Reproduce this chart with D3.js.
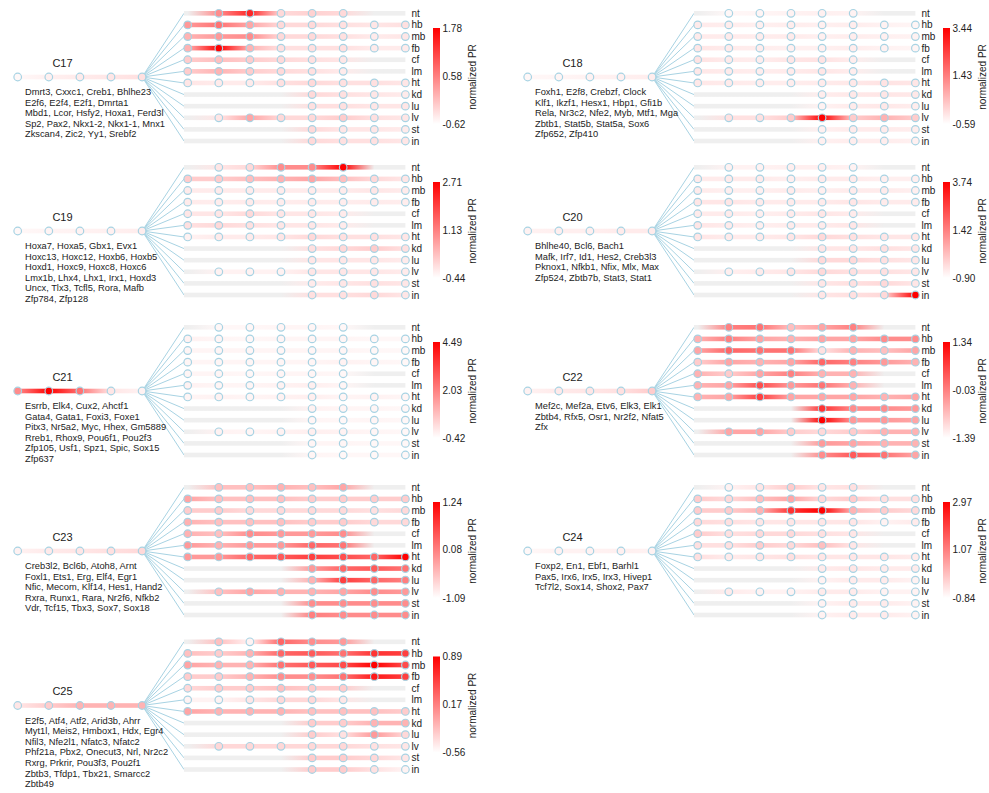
<!DOCTYPE html>
<html>
<head>
<meta charset="utf-8">
<script src="https://cdn.jsdelivr.net/npm/d3@7"></script>
<style>
	body { margin: 0; background: #fff; }
	text { font-family: "Liberation Sans", Arial, Helvetica, sans-serif; fill: #222; }
</style>
</head>
<body>
<svg id="chart" width="989" height="793"></svg>
<script>

/***************************************************************************
 *
 * DATA
 *
 **************************************************************************/

var tissues = ["nt", "hb", "mb", "fb", "cf", "lm", "ht", "kd", "lu", "lv", "st", "in"];

// colour bar labels: min, mid, max
var bar17 = [-0.62, 0.58, 1.78];
var bar18 = [-0.59, 1.43, 3.44];
var bar19 = [-0.44, 1.13, 2.71];
var bar20 = [-0.90, 1.42, 3.74];
var bar21 = [-0.42, 2.03, 4.49];
var bar22 = [-1.39, -0.03, 1.34];
var bar23 = [-1.09, 0.08, 1.24];
var bar24 = [-0.84, 1.07, 2.97];
var bar25 = [-0.56, 0.17, 0.89];

var genes17 = ["Dmrt3, Cxxc1, Creb1, Bhlhe23", "E2f6, E2f4, E2f1, Dmrta1", "Mbd1, Lcor, Hsfy2, Hoxa1, Ferd3l",
	"Sp2, Pax2, Nkx1-2, Nkx1-1, Mnx1", "Zkscan4, Zic2, Yy1, Srebf2"];
var genes18 = ["Foxh1, E2f8, Crebzf, Clock", "Klf1, Ikzf1, Hesx1, Hbp1, Gfi1b", "Rela, Nr3c2, Nfe2, Myb, Mtf1, Mga",
	"Zbtb1, Stat5b, Stat5a, Sox6", "Zfp652, Zfp410"];
var genes19 = ["Hoxa7, Hoxa5, Gbx1, Evx1", "Hoxc13, Hoxc12, Hoxb6, Hoxb5", "Hoxd1, Hoxc9, Hoxc8, Hoxc6",
	"Lmx1b, Lhx4, Lhx1, Irx1, Hoxd3", "Uncx, Tlx3, Tcfl5, Rora, Mafb", "Zfp784, Zfp128"];
var genes20 = ["Bhlhe40, Bcl6, Bach1", "Mafk, Irf7, Id1, Hes2, Creb3l3", "Pknox1, Nfkb1, Nfix, Mlx, Max",
	"Zfp524, Zbtb7b, Stat3, Stat1"];
var genes21 = ["Esrrb, Elk4, Cux2, Ahctf1", "Gata4, Gata1, Foxi3, Foxe1", "Pitx3, Nr5a2, Myc, Hhex, Gm5889",
	"Rreb1, Rhox9, Pou6f1, Pou2f3", "Zfp105, Usf1, Spz1, Spic, Sox15", "Zfp637"];
var genes22 = ["Mef2c, Mef2a, Etv6, Elk3, Elk1", "Zbtb4, Rfx5, Osr1, Nr2f2, Nfat5", "Zfx"];
var genes23 = ["Creb3l2, Bcl6b, Atoh8, Arnt", "Foxl1, Ets1, Erg, Elf4, Egr1", "Nfic, Mecom, Klf14, Hes1, Hand2",
	"Rxra, Runx1, Rara, Nr2f6, Nfkb2", "Vdr, Tcf15, Tbx3, Sox7, Sox18"];
var genes24 = ["Foxp2, En1, Ebf1, Barhl1", "Pax5, Irx6, Irx5, Irx3, Hivep1", "Tcf7l2, Sox14, Shox2, Pax7"];
var genes25 = ["E2f5, Atf4, Atf2, Arid3b, Ahrr", "Myt1l, Meis2, Hmbox1, Hdx, Egr4", "Nfil3, Nfe2l1, Nfatc3, Nfatc2",
	"Phf21a, Pbx2, Onecut3, Nrl, Nr2c2", "Rxrg, Prkrir, Pou3f3, Pou2f1", "Zbtb3, Tfdp1, Tbx21, Smarcc2", "Zbtb49"];

// shared trunk (5 early stages)
var stem17 = [-0.55, -0.48, -0.43, -0.38, -0.33];
var stem18 = [-0.47, -0.43, -0.39, -0.35, -0.31];
var stem19 = [-0.35, -0.31, -0.28, -0.25, -0.22];
var stem20 = [-0.67, -0.60, -0.60, -0.53, -0.53];
var stem21 = [1.79, 4.49, 2.28, 0.07, -0.17];
var stem22 = [-1.25, -1.17, -1.12, -1.06, -0.84];
var stem23 = [-0.97, -0.90, -0.86, -0.81, -0.74];
var stem24 = [-0.73, -0.65, -0.65, -0.61, -0.65];
var stem25 = [-0.42, -0.27, -0.13, -0.13, -0.13];

// tissue x stage (8 later stages), null = not sampled
var pr17 = [
	[null, 0.46, 1.42, -0.26, -0.19, -0.26, null, null],
	[0.34, 0.70, 0.22, -0.26, -0.26, -0.33, -0.38, -0.33],
	[0.10, 0.34, 0.46, -0.26, -0.26, -0.33, -0.43, -0.38],
	[0.10, 1.78, 0.10, -0.33, -0.33, -0.33, -0.43, -0.43],
	[-0.14, -0.02, -0.14, -0.26, -0.33, -0.38, null, null],
	[-0.14, 0.10, -0.14, -0.26, -0.33, -0.43, null, null],
	[-0.38, -0.43, -0.43, -0.33, -0.26, -0.33, -0.33, -0.38],
	[null, null, null, null, -0.26, -0.33, -0.38, -0.43],
	[null, null, null, null, -0.33, -0.33, -0.38, -0.38],
	[null, -0.38, 0.22, -0.26, -0.26, -0.14, -0.33, -0.38],
	[null, null, null, null, -0.26, -0.38, -0.38, -0.43],
	[null, null, null, null, -0.26, -0.33, -0.33, -0.38]
];
var pr18 = [
	[null, -0.47, -0.43, -0.39, -0.35, -0.39, null, null],
	[-0.27, -0.31, -0.35, -0.31, -0.35, -0.31, -0.39, -0.43],
	[-0.27, -0.27, -0.31, -0.27, -0.35, -0.31, -0.35, -0.39],
	[-0.19, -0.27, -0.31, -0.35, -0.35, -0.31, -0.39, -0.43],
	[-0.15, -0.27, -0.31, -0.19, -0.15, -0.31, null, null],
	[-0.23, -0.27, -0.31, -0.27, -0.19, -0.31, null, null],
	[-0.23, -0.27, -0.31, -0.31, -0.27, -0.23, -0.15, -0.19],
	[null, null, null, null, -0.31, -0.23, -0.19, -0.23],
	[null, null, null, null, -0.39, -0.27, -0.23, -0.31],
	[null, -0.11, -0.11, 0.22, 3.44, 0.22, 0.62, 0.22],
	[null, null, null, null, -0.35, -0.27, -0.27, -0.31],
	[null, null, null, null, -0.35, -0.31, -0.31, -0.35]
];
var pr19 = [
	[null, -0.13, 0.03, 0.98, 0.98, 2.71, null, null],
	[0.19, 0.19, 0.35, 0.51, 0.66, 0.35, 0.03, -0.13],
	[-0.19, -0.19, -0.19, -0.19, -0.19, -0.19, -0.13, -0.19],
	[-0.19, -0.22, -0.19, -0.22, -0.19, -0.22, -0.19, -0.22],
	[-0.13, -0.13, 0.03, -0.13, -0.13, -0.19, null, null],
	[-0.06, 0.03, -0.06, -0.13, -0.13, -0.19, null, null],
	[-0.28, -0.19, -0.19, -0.13, 0.03, -0.06, -0.06, -0.13],
	[null, null, null, null, -0.06, 0.03, 0.19, -0.06],
	[null, null, null, null, -0.13, -0.13, -0.13, -0.19],
	[null, -0.28, -0.28, -0.28, -0.13, -0.13, -0.13, -0.19],
	[null, null, null, null, -0.19, -0.13, -0.06, -0.13],
	[null, null, null, null, -0.06, -0.06, 0.03, -0.13]
];
var pr20 = [
	[null, -0.67, -0.67, -0.60, -0.60, -0.67, null, null],
	[-0.53, -0.53, -0.53, -0.60, -0.53, -0.53, -0.60, -0.60],
	[-0.53, -0.60, -0.60, -0.53, -0.60, -0.53, -0.53, -0.60],
	[-0.44, -0.44, -0.53, -0.53, -0.53, -0.44, -0.53, -0.53],
	[-0.53, -0.53, -0.60, -0.53, -0.44, -0.53, null, null],
	[-0.44, -0.53, -0.60, -0.53, -0.53, -0.44, null, null],
	[-0.44, -0.53, -0.53, -0.44, -0.20, -0.34, -0.44, -0.44],
	[null, null, null, null, -0.44, -0.44, -0.34, -0.44],
	[null, null, null, null, -0.20, -0.20, -0.34, -0.44],
	[null, -0.60, -0.53, -0.44, -0.20, -0.34, -0.34, -0.44],
	[null, null, null, null, -0.44, -0.34, -0.20, -0.44],
	[null, null, null, null, -0.44, -0.34, -0.20, 3.74]
];
var pr21 = [
	[null, -0.27, -0.27, -0.22, -0.22, -0.27, null, null],
	[-0.17, -0.22, -0.27, -0.22, -0.22, -0.22, -0.27, -0.27],
	[-0.22, -0.22, -0.22, -0.22, -0.22, -0.22, -0.27, -0.27],
	[-0.22, -0.22, -0.22, -0.22, -0.22, -0.17, -0.22, -0.27],
	[-0.22, -0.22, -0.27, -0.22, -0.22, -0.27, null, null],
	[-0.17, -0.22, -0.22, -0.17, -0.12, -0.22, null, null],
	[-0.22, -0.17, -0.22, -0.17, -0.12, -0.22, -0.17, -0.22],
	[null, null, null, null, -0.17, -0.22, -0.22, -0.27],
	[null, null, null, null, -0.22, -0.27, -0.22, -0.27],
	[null, -0.17, -0.22, -0.17, -0.12, -0.17, -0.22, -0.27],
	[null, null, null, null, -0.22, -0.22, -0.27, -0.27],
	[null, null, null, null, -0.22, -0.27, -0.27, -0.27]
];
var pr22 = [
	[null, -0.03, 0.11, -0.71, -0.43, -0.03, null, null],
	[-0.57, -0.03, -0.43, -0.57, -0.43, -0.43, -0.16, -0.16],
	[-0.43, 0.25, 0.11, 0.11, -1.06, -0.57, -0.71, -0.43],
	[-0.84, -0.43, -0.57, -0.43, 0.25, -0.03, -0.30, -0.57],
	[-0.57, -0.84, -0.43, -0.03, -0.57, -0.57, null, null],
	[-0.57, -0.43, 0.52, -0.30, 0.11, -0.57, null, null],
	[-0.57, -0.43, 0.66, -0.43, -0.43, -0.43, -0.57, -0.43],
	[null, null, null, null, 0.79, -0.16, -0.16, -0.30],
	[null, null, null, null, 1.34, -0.30, -0.30, -0.43],
	[null, -0.43, -0.43, -0.84, -0.98, -0.84, -0.57, -0.57],
	[null, null, null, null, -0.30, -0.43, -0.57, -0.57],
	[null, null, null, null, -0.16, 0.38, 0.11, -0.43]
];
var pr23 = [
	[null, -0.51, -0.51, -0.39, -0.51, -0.27, null, null],
	[-0.27, -0.51, -0.51, -0.51, -0.62, -0.62, -0.62, -0.62],
	[-0.62, -0.62, -0.74, -0.74, -0.74, -0.74, -0.81, -0.74],
	[-0.39, -0.51, -0.51, -0.51, -0.62, -0.62, -0.74, -0.74],
	[-0.39, -0.51, -0.04, -0.16, -0.16, -0.04, null, null],
	[-0.16, -0.39, -0.16, -0.16, 0.31, 0.19, null, null],
	[-0.16, -0.16, 0.31, 0.42, 0.66, 0.54, 0.31, 1.24],
	[null, null, null, null, -0.16, 0.31, 0.42, 0.19],
	[null, null, null, null, -0.39, 0.66, 0.31, 0.08],
	[null, -0.51, -0.27, -0.39, -0.39, -0.27, -0.04, -0.16],
	[null, null, null, null, -0.04, -0.04, -0.04, -0.04],
	[null, null, null, null, 0.08, -0.04, -0.04, -0.04]
];
var pr24 = [
	[null, -0.65, -0.46, -0.08, -0.46, -0.38, null, null],
	[-0.08, -0.27, 0.11, 0.49, -0.27, -0.08, -0.38, -0.38],
	[-0.08, -0.08, 0.30, 2.21, 2.97, 0.30, -0.08, -0.27],
	[-0.27, -0.38, -0.46, -0.46, -0.46, -0.46, -0.65, -0.54],
	[-0.08, -0.38, -0.27, -0.27, -0.38, -0.46, null, null],
	[-0.38, -0.38, -0.08, -0.27, 0.11, -0.46, null, null],
	[-0.38, -0.54, -0.46, -0.38, -0.46, -0.46, -0.46, -0.54],
	[null, null, null, null, -0.54, -0.46, -0.54, -0.54],
	[null, null, null, null, -0.65, -0.54, -0.54, -0.65],
	[null, -0.54, -0.65, -0.65, -0.54, -0.54, -0.65, -0.65],
	[null, null, null, null, -0.65, -0.54, -0.54, -0.65],
	[null, null, null, null, -0.65, -0.54, -0.54, -0.65]
];
var pr25 = [
	[null, -0.20, -0.49, 0.31, 0.09, 0.02, null, null],
	[-0.20, -0.27, -0.13, 0.31, 0.38, 0.24, 0.60, 0.53],
	[-0.05, -0.13, -0.13, 0.24, 0.38, 0.46, 0.89, 0.46],
	[-0.27, -0.27, -0.13, 0.09, 0.09, 0.24, 0.75, 0.53],
	[-0.34, -0.27, -0.27, -0.20, -0.27, -0.27, null, null],
	[-0.49, -0.49, -0.42, -0.34, -0.34, -0.42, null, null],
	[-0.05, -0.13, -0.13, -0.13, -0.20, -0.20, -0.20, -0.27],
	[null, null, null, null, -0.27, -0.27, -0.13, -0.13],
	[null, null, null, null, -0.27, -0.39, 0.02, -0.34],
	[null, -0.34, -0.34, -0.34, -0.34, -0.34, -0.39, -0.42],
	[null, null, null, null, -0.27, -0.27, -0.34, -0.42],
	[null, null, null, null, -0.27, -0.27, -0.39, -0.49]
];

var panels = [
	{ name: "C17", genes: genes17, stem: stem17, pr: pr17, bar: bar17 },
	{ name: "C18", genes: genes18, stem: stem18, pr: pr18, bar: bar18 },
	{ name: "C19", genes: genes19, stem: stem19, pr: pr19, bar: bar19 },
	{ name: "C20", genes: genes20, stem: stem20, pr: pr20, bar: bar20 },
	{ name: "C21", genes: genes21, stem: stem21, pr: pr21, bar: bar21 },
	{ name: "C22", genes: genes22, stem: stem22, pr: pr22, bar: bar22 },
	{ name: "C23", genes: genes23, stem: stem23, pr: pr23, bar: bar23 },
	{ name: "C24", genes: genes24, stem: stem24, pr: pr24, bar: bar24 },
	{ name: "C25", genes: genes25, stem: stem25, pr: pr25, bar: bar25 }
];

/***************************************************************************
 *
 * LAYOUT
 *
 **************************************************************************/

var panelLeft = [0, 510];
var panelTop = [0, 154, 314, 474, 628.5];

var MISSING = "#efefef";
var NODE_STROKE = "#a8d3e3";
var LINK = "#a8d3e3";
var BAND = 4.6;
var R = 3.8;

var stemX = d3.scaleLinear().domain([0, 4]).range([17.7, 142.1]);
var colX = d3.scaleLinear().domain([0, 7]).range([187.7, 405.4]);
var rowY = d3.scalePoint().domain(tissues).range([13.3, 141]);
var STEM_Y = 77;
var ROW_START = 184;

var svg = d3.select("#chart");
var defs = svg.append("defs");

/**
 * adds a horizontal gradient built from node colours and returns its url.
 */
function addGradient(id, x1, x2, stops)
{
	var grad = defs.append("linearGradient")
		.attr("id", id)
		.attr("gradientUnits", "userSpaceOnUse")
		.attr("x1", x1).attr("x2", x2)
		.attr("y1", 0).attr("y2", 0);

	grad.selectAll("stop")
		.data(stops)
		.enter()
		.append("stop")
			.attr("offset", function(d) { return (d.x - x1) / (x2 - x1); })
			.attr("stop-color", function(d) { return d.c; });

	return "url(#" + id + ")";
}

panels.forEach(function(p, i)
{
	var g = svg.append("g")
		.attr("transform", "translate(" + panelLeft[i % 2] + "," + panelTop[Math.floor(i / 2)] + ")");

	var color = d3.scaleLinear()
		.domain([p.bar[0], p.bar[2]])
		.range(["#ffffff", "#ff0000"])
		.clamp(true);

	function fill(v) { return v === null ? MISSING : color(v); }

	// links from the trunk end to each tissue row
	g.selectAll(".link")
		.data(tissues)
		.enter()
		.append("line")
			.attr("class", "link")
			.attr("x1", stemX(4)).attr("y1", STEM_Y)
			.attr("x2", ROW_START).attr("y2", function(t) { return rowY(t); })
			.style("stroke", LINK)
			.style("stroke-width", 1);

	// trunk
	var stemStops = p.stem.map(function(v, k) { return { x: stemX(k), c: fill(v) }; });
	g.append("rect")
		.attr("x", stemX(0)).attr("y", STEM_Y - BAND / 2)
		.attr("width", stemX(4) - stemX(0)).attr("height", BAND)
		.style("fill", addGradient("s" + p.name, stemX(0), stemX(4), stemStops));

	// tissue rows
	p.pr.forEach(function(row, r)
	{
		var y = rowY(tissues[r]);
		var stops = [{ x: ROW_START, c: fill(row[0]) }].concat(row.map(function(v, j) { return { x: colX(j), c: fill(v) }; }));

		g.append("rect")
			.attr("x", ROW_START).attr("y", y - BAND / 2)
			.attr("width", colX(7) - ROW_START).attr("height", BAND)
			.style("fill", addGradient("r" + p.name + "_" + r, ROW_START, colX(7), stops));

		g.selectAll(".n" + r)
			.data(row.map(function(v, j) { return { v: v, j: j }; }).filter(function(d) { return d.v !== null; }))
			.enter()
			.append("circle")
				.attr("cx", function(d) { return colX(d.j); })
				.attr("cy", y)
				.attr("r", R)
				.style("fill", function(d) { return color(d.v); })
				.style("stroke", NODE_STROKE)
				.style("stroke-width", 1.2);

		g.append("text")
			.attr("x", 411.5).attr("y", y).attr("dy", "0.35em")
			.style("font-size", "10px")
			.text(tissues[r]);
	});

	g.selectAll(".stemNode")
		.data(p.stem)
		.enter()
		.append("circle")
			.attr("cx", function(d, k) { return stemX(k); })
			.attr("cy", STEM_Y)
			.attr("r", R)
			.style("fill", function(d) { return color(d); })
			.style("stroke", NODE_STROKE)
			.style("stroke-width", 1.2);

	// title and member genes
	g.append("text")
		.attr("x", 62.5).attr("y", 66.5)
		.attr("text-anchor", "middle")
		.style("font-size", "11px")
		.text(p.name);

	g.selectAll(".gene")
		.data(p.genes)
		.enter()
		.append("text")
			.attr("x", 25)
			.attr("y", function(d, k) { return 95 + k * 10.6; })
			.style("font-size", "9.3px")
			.text(function(d) { return d; });

	// colour bar
	var barY = d3.scaleLinear().domain([p.bar[0], p.bar[2]]).range([124, 28]);
	var vgrad = defs.append("linearGradient")
		.attr("id", "cb" + p.name)
		.attr("x1", 0).attr("x2", 0).attr("y1", 1).attr("y2", 0);
	vgrad.append("stop").attr("offset", 0).attr("stop-color", "#ffffff");
	vgrad.append("stop").attr("offset", 1).attr("stop-color", "#ff0000");

	g.append("rect")
		.attr("x", 433).attr("y", barY(p.bar[2]))
		.attr("width", 7).attr("height", barY(p.bar[0]) - barY(p.bar[2]))
		.style("fill", "url(#cb" + p.name + ")");

	g.selectAll(".tick")
		.data(p.bar)
		.enter()
		.append("text")
			.attr("x", 442.5)
			.attr("y", function(d) { return barY(d); })
			.attr("dy", "0.35em")
			.style("font-size", "10px")
			.text(function(d) { return d.toFixed(2); });

	g.append("text")
		.attr("transform", "translate(476,77) rotate(-90)")
		.attr("text-anchor", "middle")
		.style("font-size", "10px")
		.text("normalized PR");
});

</script>
</body>
</html>
